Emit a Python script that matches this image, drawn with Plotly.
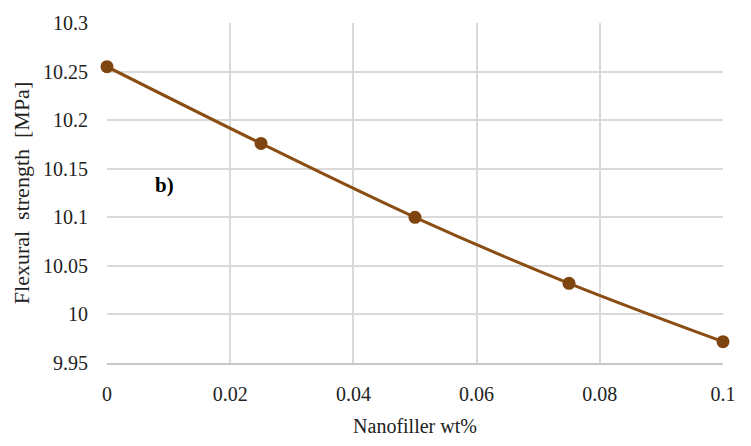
import plotly.graph_objects as go

nanofiller_wt = [0, 0.025, 0.05, 0.075, 0.1]
flexural_strength = [10.255, 10.176, 10.100, 10.032, 9.972]
x_ticks = [0, 0.02, 0.04, 0.06, 0.08, 0.1]
x_tick_labels = ["0", "0.02", "0.04", "0.06", "0.08", "0.1"]
y_ticks = [9.95, 10, 10.05, 10.1, 10.15, 10.2, 10.25, 10.3]
y_tick_labels = ["9.95", "10", "10.05", "10.1", "10.15", "10.2", "10.25", "10.3"]

font_family = "Liberation Serif"
brown = "#8a4d14"

fig = go.Figure()
fig.add_trace(go.Scatter(
    x=nanofiller_wt, y=flexural_strength,
    mode="lines+markers",
    line=dict(color=brown, width=3, shape="spline"),
    marker=dict(color="#7f4510", size=13),
    cliponaxis=False,
    showlegend=False,
))

fig.add_annotation(
    x=0.0093, y=10.133, xref="x", yref="y",
    text="<b>b)</b>", showarrow=False,
    font=dict(family=font_family, size=21, color="black"),
)

fig.update_xaxes(
    range=[0, 0.1], tickvals=x_ticks, ticktext=x_tick_labels,
    showgrid=True, gridcolor="#d9d9d9", gridwidth=1.5,
    showline=True, linecolor="#c8c8c8", linewidth=2,
    zeroline=False, ticks="", ticklabelstandoff=12,
    tickfont=dict(family=font_family, size=20, color="#222"),
    title=dict(text="Nanofiller wt%", font=dict(family=font_family, size=20, color="#222"), standoff=15),
)
fig.update_yaxes(
    range=[9.95, 10.3], tickvals=y_ticks, ticktext=y_tick_labels,
    showgrid=True, gridcolor="#d9d9d9", gridwidth=1.5,
    showline=False, zeroline=False, ticks="", ticklabelstandoff=18,
    tickfont=dict(family=font_family, size=20, color="#222"),
    title=dict(text="Flexural  strength  [MPa]", font=dict(family=font_family, size=22, color="#222"), standoff=7),
)

fig.update_layout(
    width=751, height=446,
    margin=dict(l=107, r=28, t=17, b=82),
    paper_bgcolor="white", plot_bgcolor="white",
)

fig.write_html("out.html")
